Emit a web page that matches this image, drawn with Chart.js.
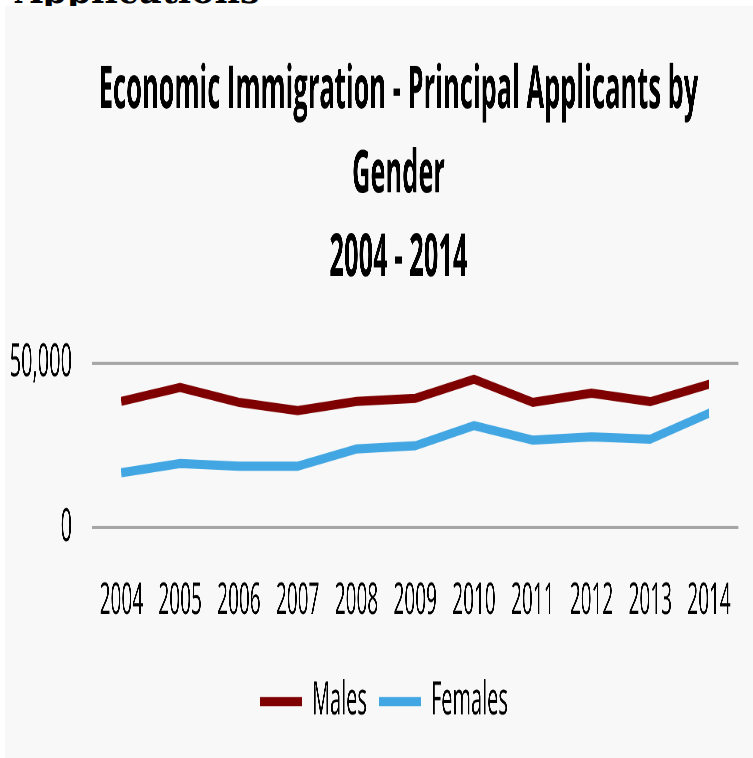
<!DOCTYPE html>
<html>
<head>
<meta charset="utf-8">
<script src="https://cdn.jsdelivr.net/npm/chart.js@4"></script>
<style>
  body { margin: 0; background: #fff; width: 753px; height: 758px; overflow: hidden; position: relative; }
  #cut { position: absolute; left: 15px; top: -27px; font: bold 35px/36px 'DejaVu Serif', serif; color: #000; white-space: nowrap; }
  #panel { position: absolute; left: 5px; top: 6px; width: 748px; height: 752px; background: #f8f8f8; overflow: hidden; }
  /* the picture is stretched tall, so draw flat and stretch it the same way */
  #wrap { width: 748px; height: 327px; transform: scaleY(2.3); transform-origin: 0 0; }
</style>
</head>
<body>
<div id="cut">Applications</div>
<div id="panel"><div id="wrap"><canvas id="chart"></canvas></div></div>
<script>
// values
const years = ['2004', '2005', '2006', '2007', '2008', '2009', '2010', '2011', '2012', '2013', '2014'];
const males = [38400, 42600, 38100, 35600, 38400, 39300, 45100, 38100, 40900, 38300, 43600];
const females = [16700, 19500, 18700, 18700, 23900, 24900, 31000, 26600, 27600, 26900, 34800];
const titleLines = ['Economic Immigration - Principal Applicants by', 'Gender', '2004 - 2014'];

Chart.defaults.font.family = "'Open Sans', sans-serif";
Chart.defaults.color = '#000';

// title and legend sit a bit right of centre in the original
const nudge = {
    id: 'nudge',
    afterLayout(chart) {
        const move = (box, dx) => { if (box) { box.left += dx; box.right += dx; } };
        move(chart.titleBlock, 22.5);
        move(chart.legend, 8);
    }
};

new Chart(document.getElementById('chart'), {
    type: 'line',
    data: {
        labels: years,
        datasets: [{
            label: 'Males',
            data: males,
            borderColor: '#7f0000',
            backgroundColor: '#7f0000',
            borderWidth: 4,
            pointRadius: 0,
            tension: 0
        }, {
            label: 'Females',
            data: females,
            borderColor: '#41a6e2',
            backgroundColor: '#41a6e2',
            borderWidth: 4,
            pointRadius: 0,
            tension: 0
        }]
    },
    options: {
        responsive: true,
        maintainAspectRatio: false,
        animation: false,
        devicePixelRatio: 3,
        layout: { padding: { left: 5, right: 11, top: 0, bottom: 4.6 } },
        plugins: {
            title: {
                display: true,
                text: titleLines,
                font: { size: 25.5, weight: 'bold', lineHeight: 1.43 },
                color: '#000',
                padding: { top: 19, bottom: 26.9 }
            },
            legend: {
                position: 'bottom',
                labels: {
                    boxWidth: 42,
                    boxHeight: 0,
                    font: { size: 20 },
                    padding: 12
                }
            },
            tooltip: { enabled: false }
        },
        scales: {
            x: {
                offset: true,
                afterFit: scale => { scale.height = 53.6; },
                grid: { display: false, drawTicks: false },
                border: { display: false },
                ticks: { font: { size: 19, lineHeight: 1.1 }, padding: 21.7, maxRotation: 0 }
            },
            y: {
                min: 0,
                max: 50000,
                afterFit: scale => { scale.width = 82; },
                grid: { color: '#a6a6a6', lineWidth: 1.3, drawTicks: false },
                border: { display: false },
                ticks: {
                    stepSize: 50000,
                    font: { size: 20 },
                    padding: 20,
                    callback: v => v.toLocaleString('en-US')
                }
            }
        }
    },
    plugins: [nudge]
});
</script>
</body>
</html>
